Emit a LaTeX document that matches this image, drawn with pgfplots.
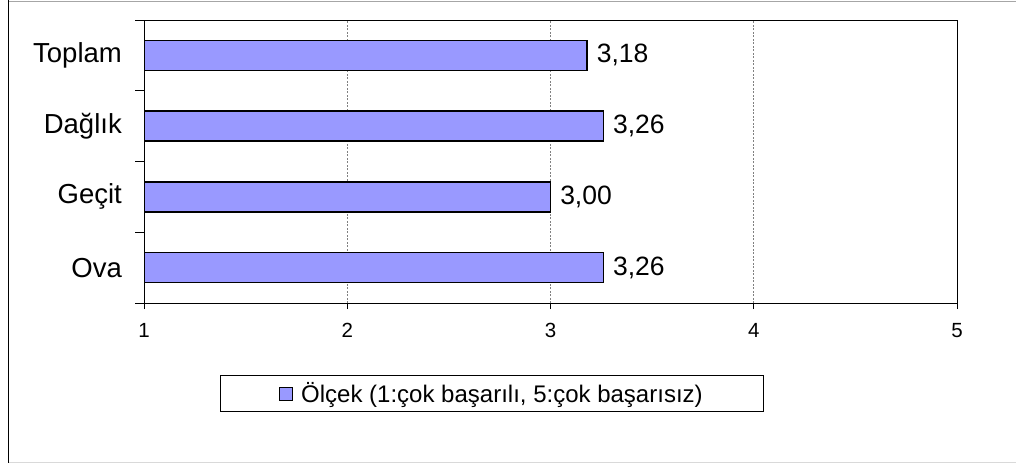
\documentclass[border=0pt]{standalone}
\usepackage{fontspec}
\setmainfont{Liberation Sans}
\usepackage{pgfplots}
\pgfplotsset{compat=1.18}
\definecolor{barfill}{HTML}{9999FF}
\begin{document}
\begin{tikzpicture}
\path[use as bounding box] (0,0) rectangle (1016bp,-463bp);
\draw[gray!70, line width=1bp] (8.5bp,-1bp) -- (1020bp,-1bp);
\draw[gray!30, line width=1bp] (8.5bp,-462bp) -- (1020bp,-462bp);
\draw[black, line width=1.6bp] (8.5bp,-0.5bp) -- (8.5bp,-462.5bp);
\begin{axis}[
  at={(144bp,-303bp)}, anchor=south west,
  scale only axis, width=813bp, height=283bp,
  xbar, bar width=30bp,
  xmin=1, xmax=5, ymin=0.5, ymax=4.5,
  xtick={1,2,3,4,5},
  ytick={1,2,3,4},
  yticklabels={Ova, Geçit, Dağlık, Toplam},
  minor ytick={0.5,1.5,2.5,3.5,4.5},
  tick align=outside, tick pos=left,
  major tick length=6bp, minor tick length=9bp,
  major y tick style={draw=none},
  tick style={black, line width=0.8bp},
  axis line style={black, line width=1bp},
  xmajorgrids, grid style={gray, dash pattern=on 2bp off 1.5bp, line width=0.6bp},
  /pgf/number format/assume math mode=true,
  xticklabel style={font=\fontsize{20.5bp}{24bp}\selectfont, inner sep=0pt, anchor=north, yshift=-14bp},
  yticklabel style={font=\fontsize{27.5bp}{32bp}\selectfont, inner sep=0pt, anchor=east, xshift=-16bp},
  nodes near coords={\pgfmathprintnumber[fixed,fixed zerofill,precision=2,use comma,assume math mode=true]{\pgfplotspointmeta}},
  point meta=x,
  nodes near coords style={font=\fontsize{26.5bp}{30bp}\selectfont, anchor=west, inner sep=0pt, xshift=9bp},
  legend style={at={(0.4280,-0.3198)}, anchor=center, draw=black, line width=0.8bp,
    font=\fontsize{24bp}{28bp}\selectfont, inner xsep=59bp, inner ysep=5bp, /tikz/column sep=6bp},
  legend image code/.code={\draw[#1, line width=1bp] (0bp,-6.5bp) rectangle (13bp,6.5bp);},
]
\addplot[fill=barfill, draw=black, line width=1.5bp] coordinates {(3.26,1) (3.00,2) (3.26,3) (3.18,4)};
\addlegendentry{Ölçek (1:çok başarılı, 5:çok başarısız)}
\end{axis}
\end{tikzpicture}
\end{document}
